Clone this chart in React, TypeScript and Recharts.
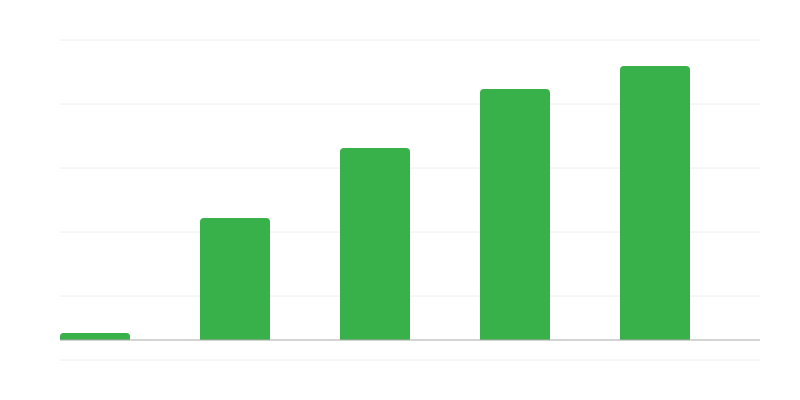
import React from "react";
import { BarChart, Bar, XAxis, YAxis, CartesianGrid, ReferenceLine } from "recharts";

const categories = ["A", "B", "C", "D", "E"];
const values = [7, 122, 192, 251, 274];
const spare = [0, 0, 0, 0, 0];
const yTicks = [-20, 44, 108, 172, 236, 300];

const data = categories.map((name, i) => ({ name, value: values[i], spare: spare[i] }));

const App: React.FC = () => {
  return (
    <div style={{ position: "absolute", left: 0, top: 0, width: 800, height: 400, background: "#ffffff" }}>
      <BarChart
        width={800}
        height={400}
        data={data}
        margin={{ top: 40, right: 40, bottom: 40, left: 60 }}
        barCategoryGap={0}
        barGap={0}
      >
        <CartesianGrid vertical={false} stroke="#eeeeee" />
        <XAxis dataKey="name" hide />
        <YAxis hide domain={[-20, 300]} ticks={yTicks} />
        <Bar dataKey="value" fill="#38b14b" radius={[4, 4, 0, 0]} isAnimationActive={false} />
        <Bar dataKey="spare" fill="#38b14b" isAnimationActive={false} />
        <ReferenceLine y={0} stroke="#a8a8a8" />
      </BarChart>
    </div>
  );
};

export default App;
